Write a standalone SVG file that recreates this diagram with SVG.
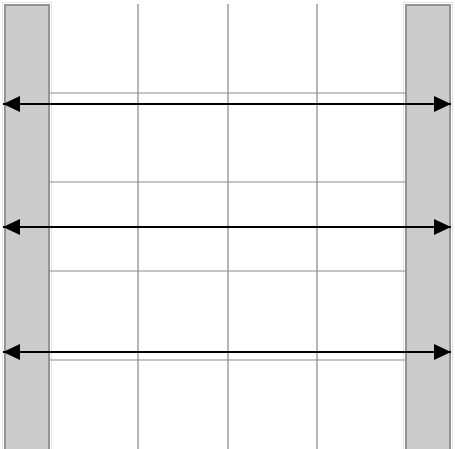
<svg xmlns="http://www.w3.org/2000/svg" width="455" height="449" viewBox="0 0 455 449">
<style>
.col{fill:#cccccc;stroke:#939393;stroke-width:2}
.halo{fill:none;stroke:#e4e4e4;stroke-width:1}
.vgrid{stroke:#6e6e6e;stroke-width:1;fill:none}
.hgrid{stroke:#8a8a8a;stroke-width:1;fill:none}
.arrow{stroke:#000;stroke-width:2;fill:none;marker-start:url(#ah);marker-end:url(#ah)}
</style>
<defs>
<marker id="ah" viewBox="0 0 17 16" refX="17" refY="8" markerWidth="17" markerHeight="16" markerUnits="userSpaceOnUse" orient="auto-start-reverse">
<path d="M0,0 L17,8 L0,16 Z" fill="#000"/>
</marker>
</defs>
<rect width="455" height="449" fill="#fff"/>
<g id="left-column">
<rect class="halo" x="2.5" y="2.5" width="49" height="452"/>
<rect class="col" x="5" y="5" width="44" height="450"/>
</g>
<g id="right-column">
<rect class="halo" x="403.5" y="2.5" width="49" height="452"/>
<rect class="col" x="406" y="5" width="44" height="450"/>
</g>
<g id="grid">
<line class="vgrid" x1="138" y1="4" x2="138" y2="449"/>
<line class="vgrid" x1="228" y1="4" x2="228" y2="449"/>
<line class="vgrid" x1="317" y1="4" x2="317" y2="449"/>
<line class="hgrid" x1="50" y1="93" x2="405" y2="93"/>
<line class="hgrid" x1="50" y1="182" x2="405" y2="182"/>
<line class="hgrid" x1="50" y1="271" x2="405" y2="271"/>
<line class="hgrid" x1="50" y1="360" x2="405" y2="360"/>
</g>
<g id="connectors">
<line class="arrow" x1="3" y1="104" x2="451" y2="104"/>
<line class="arrow" x1="3" y1="227" x2="451" y2="227"/>
<line class="arrow" x1="3" y1="352" x2="451" y2="352"/>
</g>
</svg>
